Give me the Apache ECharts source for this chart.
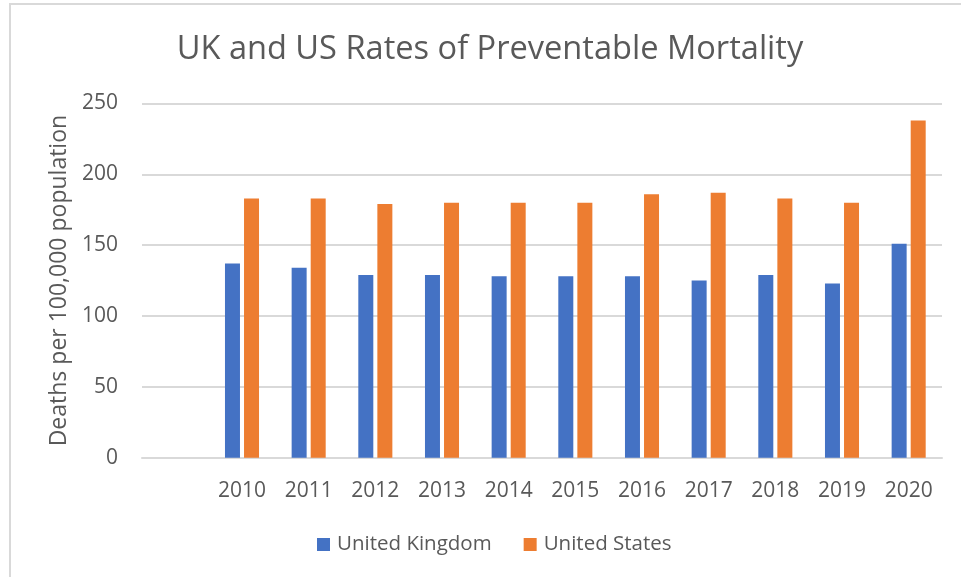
<!DOCTYPE html>
<html>
<head>
<meta charset="utf-8">
<script src="https://cdn.jsdelivr.net/npm/echarts@6/dist/echarts.min.js"></script>
<style>
  html, body { margin: 0; padding: 0; background: #ffffff; }
  #chart { width: 961px; height: 577px; }
</style>
</head>
<body>
<div id="chart"></div>
<script>
// Preventable mortality, deaths per 100,000 population
const years = ['2010', '2011', '2012', '2013', '2014', '2015', '2016', '2017', '2018', '2019', '2020'];
const unitedKingdom = [137, 134, 129, 129, 128, 128, 128, 125, 129, 123, 151];
const unitedStates = [183, 183, 179, 180, 180, 180, 186, 187, 183, 180, 238];
const yTicks = [0, 50, 100, 150, 200, 250];

// The category axis opens with one empty slot before the first year
const categories = [''].concat(years);
const ukData = [null].concat(unitedKingdom);
const usData = [null].concat(unitedStates);

const FONT = 'Open Sans';
const TEXT = '#595959';
const GRID = '#d9d9d9';

const chart = echarts.init(document.getElementById('chart'), null, { renderer: 'canvas' });

chart.setOption({
  backgroundColor: '#ffffff',
  animation: false,
  title: {
    text: 'UK and US Rates of Preventable Mortality',
    left: 490,
    top: 33,
    textAlign: 'center',
    padding: 0,
    textStyle: { fontFamily: FONT, fontSize: 32.6, fontWeight: 'normal', color: TEXT }
  },
  legend: {
    top: 529,
    left: 312,
    itemWidth: 13,
    itemHeight: 13,
    itemGap: 32,
    icon: 'rect',
    textStyle: { fontFamily: FONT, fontSize: 20.5, color: TEXT, padding: [0, 0, 0, 2] },
    data: ['United Kingdom', 'United States']
  },
  grid: { left: 142, right: 19, top: 103.5, bottom: 119.3, containLabel: false },
  xAxis: {
    type: 'category',
    data: categories,
    axisLine: { show: true, lineStyle: { color: GRID, width: 2 } },
    axisTick: { show: false },
    axisLabel: { fontFamily: FONT, fontSize: 21, color: TEXT, margin: 23 }
  },
  yAxis: {
    type: 'value',
    min: yTicks[0],
    max: yTicks[yTicks.length - 1],
    interval: 50,
    name: 'Deaths per 100,000 population',
    nameLocation: 'middle',
    nameGap: 66,
    nameTextStyle: { fontFamily: FONT, fontSize: 23, color: TEXT },
    axisLine: { show: false },
    axisTick: { show: false },
    axisLabel: { fontFamily: FONT, fontSize: 21, color: TEXT, margin: 24 },
    splitLine: { lineStyle: { color: GRID, width: 2 } }
  },
  series: [
    {
      name: 'United Kingdom',
      type: 'bar',
      data: ukData,
      barWidth: 15,
      barGap: '27%',
      itemStyle: { color: '#4472C4' }
    },
    {
      name: 'United States',
      type: 'bar',
      data: usData,
      barWidth: 15,
      barGap: '27%',
      itemStyle: { color: '#ED7D31' }
    }
  ],
  graphic: [
    {
      type: 'polyline',
      silent: true,
      shape: { points: [[10, 577], [10, 4], [961, 4]] },
      style: { stroke: GRID, lineWidth: 2, fill: null }
    }
  ]
});
</script>
</body>
</html>
